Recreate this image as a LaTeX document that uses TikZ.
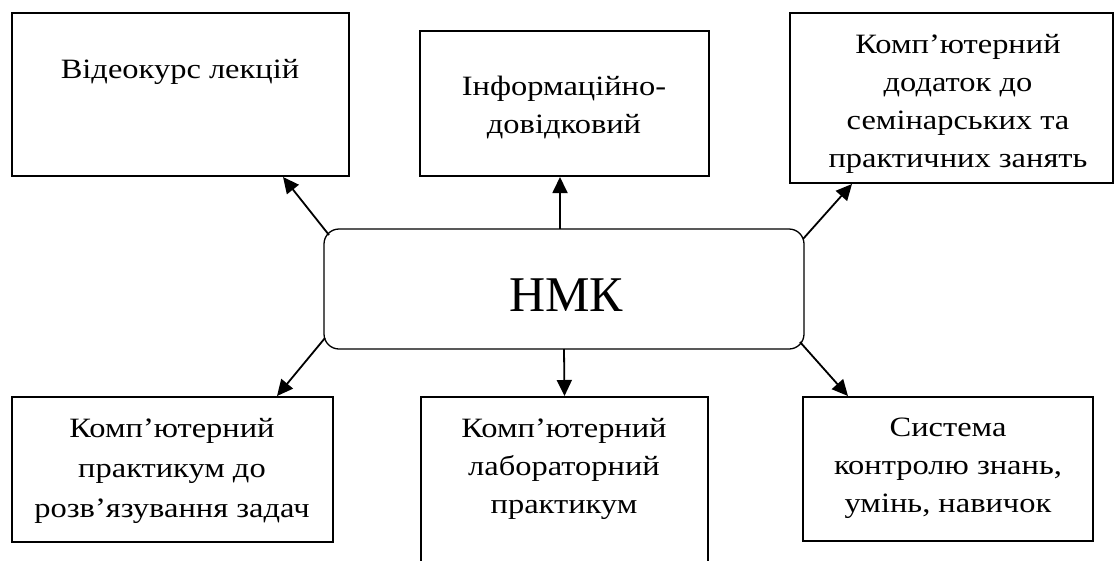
\documentclass[tikz,border=0pt]{standalone}
\usepackage{fontspec}
\setmainfont{Liberation Serif}
\newfontfamily\bodyfont{Liberation Serif}[FakeStretch=1.16]
\usetikzlibrary{arrows.meta,calc}
\tikzset{
  box/.style={draw, line width=1.3pt, inner sep=0pt, outer sep=0pt},
  hub/.style={draw, line width=1.3pt, rounded corners=15pt, inner sep=0pt, outer sep=0pt},
  txt/.style={align=center, font=\bodyfont\fontsize{28}{38}\selectfont, inner sep=0pt, anchor=base},
  arr/.style={line width=1.8pt, -{Triangle[length=16pt,width=15pt]}}
}
\begin{document}
\begin{tikzpicture}[x=1pt,y=-1pt]
\useasboundingbox (0,0) rectangle (1115,560);
% boxes
\node[box, minimum width=337pt, minimum height=163pt] (b1) at (180.5,94.5) {};
\node[box, minimum width=289pt, minimum height=145pt] (b2) at (564.5,103.5) {};
\node[box, minimum width=323pt, minimum height=170pt] (b3) at (951.5,98) {};
\node[hub, minimum width=480pt, minimum height=120pt] (hmk) at (564,289) {};
\node[box, minimum width=321pt, minimum height=145pt] (b4) at (172.5,469.5) {};
\node[box, minimum width=287pt, minimum height=203pt] (b5) at (564.5,498.5) {};
\node[box, minimum width=290pt, minimum height=144pt] (b6) at (948,469) {};
% texts (anchor base = baseline of the last line)
\node[txt] (t1) at (180,78) {Відеокурс лекцій};
\node[txt] (t2) at (564,133) {Інформаційно-\\довідковий};
\node[txt] (t3) at (958,167) {Комп’ютерний\\додаток до\\семінарських та\\практичних занять};
\node[txt, font=\fontsize{50}{60}\selectfont] (th) at (566,311) {НМК};
\node[txt, font=\bodyfont\fontsize{28}{40}\selectfont] (t4) at (172,517) {Комп’ютерний\\практикум до\\розв’язування задач};
\node[txt] (t5) at (564,513) {Комп’ютерний\\лабораторний\\практикум};
\node[txt] (t6) at (948,512) {Система\\контролю знань,\\умінь, навичок};
% arrows
\draw[arr] ($(hmk.north west)+(5,6)$) -- ($(b1.south east)+(-66,1)$);
\draw[arr] ($(hmk.north)+(-4,0)$) -- ($(b2.south)+(-4.5,1)$);
\draw[arr] ($(hmk.north east)+(-1,10)$) -- ($(b3.south west)+(62,1)$);
\draw[arr] ($(hmk.south west)+(1,-11)$) -- ($(b4.north east)+(-56,-1)$);
\draw[arr] (hmk.south) -- ($(b5.north)+(0,-1)$);
\draw[arr] ($(hmk.south east)+(-4,-7)$) -- ($(b6.north west)+(45,-1)$);
\end{tikzpicture}
\end{document}
